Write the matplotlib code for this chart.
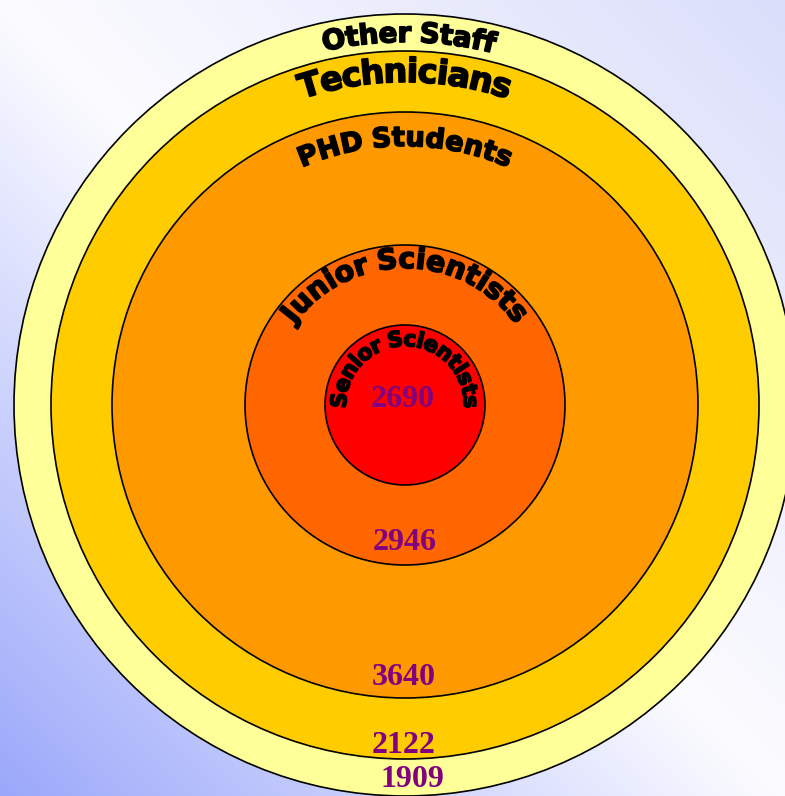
import numpy as np
import matplotlib
matplotlib.use("Agg")
import matplotlib.pyplot as plt
import matplotlib.patheffects as pe
from matplotlib.patches import Circle
from matplotlib.font_manager import FontProperties
from matplotlib.textpath import TextToPath

# data, innermost ring first
groups = ["Senior Scientists", "Junior Scientists", "PHD Students", "Technicians", "Other Staff"]
counts = [2690, 2946, 3640, 2122, 1909]

# layout (pixels, figure is drawn 1 unit = 1 px)
W, H = 785, 796
cx, cy = 405, 405
radii = [80, 160, 293, 354, 391]
ring_cols = ["#FF0000", "#FF6600", "#FF9900", "#FFCC00", "#FFFF99"]
lab_r = [59, 137, 259, 323, 363]      # baseline radius of curved names
lab_fs = [15.5, 20.5, 19.5, 24, 20]
lab_span = [186, 108, 47, 37, 27]     # degrees covered by the name
lab_mid = [0, 0, 0, 0, 0.6]
num_y = [2, 145, 280, 348, 382]       # baseline of the count, below centre
num_x = [-2, 0, -1, -1, 7]


def arc_text(ax, s, r, span, fs, mid=0.0):
    prop = FontProperties(family="DejaVu Sans", weight="bold", size=fs)
    ttp = TextToPath()
    w = []
    for ch in s:
        if ch == " ":
            w.append(0.3 * fs)
        else:
            w.append(ttp.get_text_width_height_descent(ch, prop, ismath=False)[0])
    w = np.array(w)
    tot = w.sum()
    c = np.cumsum(w) - w / 2
    for ch, ci in zip(s, c):
        th = mid + span * (ci / tot - 0.5)
        t = np.radians(th)
        x = cx + r * np.sin(t)
        y = cy - r * np.cos(t)
        ax.text(x, y, ch, fontproperties=prop, color="black",
                rotation=-th, rotation_mode="anchor",
                ha="center", va="baseline", zorder=5,
                path_effects=[pe.withStroke(linewidth=1.2, foreground="black")])


fig = plt.figure(figsize=(W / 100, H / 100), dpi=100)
ax = fig.add_axes([0, 0, 1, 1])
ax.set_xlim(0, W)
ax.set_ylim(H, 0)
ax.axis("off")

# background gradient: blue bottom-left, white middle, pale blue top-right
gx, gy = np.meshgrid(np.linspace(0, 1, 200), np.linspace(0, 1, 200))
t = (gx + (1 - gy)) / 2
c0 = np.array([155, 168, 250]) / 255
c1 = np.array([252, 252, 255]) / 255
c2 = np.array([218, 222, 250]) / 255
img = np.zeros(t.shape + (3,))
for k in range(3):
    img[..., k] = np.interp(t, [0, 0.5, 1], [c0[k], c1[k], c2[k]])
ax.imshow(img, extent=[0, W, H, 0], aspect="auto", zorder=0, interpolation="bilinear")

# rings, outermost drawn first
for i in range(len(groups) - 1, -1, -1):
    ax.add_patch(Circle((cx, cy), radii[i], facecolor=ring_cols[i],
                        edgecolor="black", lw=1.2, zorder=1 + (4 - i) * 0.1))

for i, g in enumerate(groups):
    arc_text(ax, g, lab_r[i], lab_span[i], lab_fs[i], lab_mid[i])
    ax.text(cx + num_x[i], cy + num_y[i], str(counts[i]), color="#800080",
            fontsize=23, fontweight="bold", family="Liberation Serif",
            ha="center", va="baseline", zorder=6)

fig.savefig("out.png", dpi=100)
